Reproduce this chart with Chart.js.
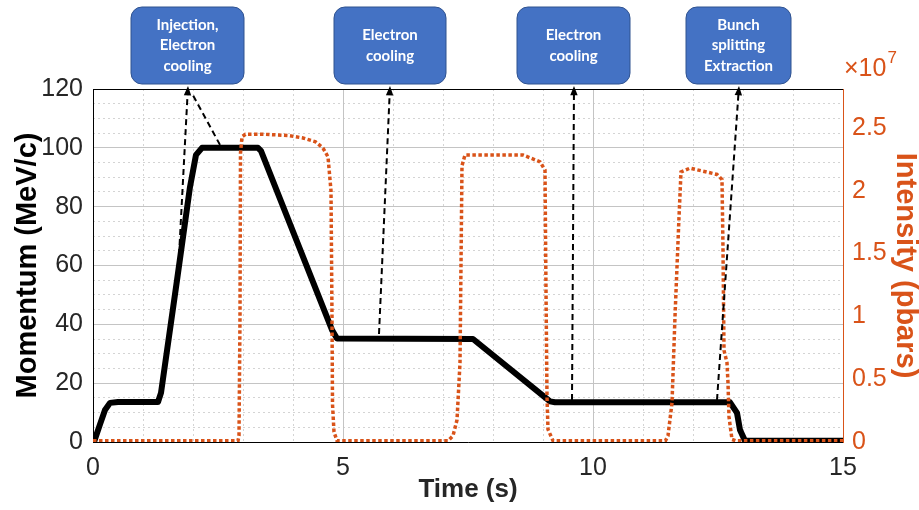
<!DOCTYPE html>
<html>
<head>
<meta charset="utf-8">
<script src="https://cdn.jsdelivr.net/npm/chart.js@4.4.1/dist/chart.umd.min.js"></script>
<style>
html,body{margin:0;padding:0;background:#fff;}
</style>
</head>
<body>
<canvas id="cycleChart" width="919" height="510"></canvas>
<script>

// -------------------------------------
// DATA
// -------------------------------------

// momentum trace (black)
const momTime  = [0.02, 0.14, 0.24, 0.34, 0.5, 1.3, 1.36, 1.68, 1.94, 2.06, 2.18, 3.3, 3.36, 4.78, 4.88, 7.6, 9.14, 9.24, 12.74, 12.88, 12.94, 13.04, 15];
const momValue = [0, 6, 10.9, 13.3, 13.6, 13.6, 16.7, 55, 86.7, 97.6, 100, 100, 99, 38.1, 35.2, 35, 13.8, 13.5, 13.5, 9.9, 4.1, 0.4, 0.4];

// intensity trace (orange, pbars)
const intTime  = [0, 2.9, 2.92, 2.94, 2.95, 2.98, 3.05, 3.4, 3.9, 4.2, 4.45, 4.6, 4.7, 4.76, 4.78, 4.79, 4.82, 4.88,
                  7.1, 7.2, 7.28, 7.34, 7.38, 7.44, 8.6, 8.94, 9.04, 9.06, 9.08, 9.1, 9.2,
                  11.45, 11.5, 11.58, 11.64, 11.72, 11.76, 11.94, 12.48, 12.58, 12.6, 12.62, 12.68, 12.7, 12.72, 12.78, 12.85, 15];
const intValue = [0.01e7, 0.01e7, 0.05e7, 1.0e7, 2.3e7, 2.43e7, 2.45e7, 2.45e7, 2.44e7, 2.42e7, 2.39e7, 2.34e7, 2.27e7, 2.0e7, 1.0e7, 0.3e7, 0.08e7, 0.01e7,
                  0.01e7, 0.05e7, 0.175e7, 0.63e7, 2.2e7, 2.285e7, 2.285e7, 2.23e7, 2.165e7, 1.2e7, 0.36e7, 0.1e7, 0.01e7,
                  0.01e7, 0.05e7, 0.31e7, 1.0e7, 1.79e7, 2.15e7, 2.18e7, 2.13e7, 2.09e7, 1.53e7, 0.73e7, 0.63e7, 0.47e7, 0.2e7, 0.02e7, 0.01e7, 0.01e7];

// ticks
const timeTicks      = [0, 5, 10, 15];
const timeMinorTicks = [0, 1, 2, 3, 4, 5, 6, 7, 8, 9, 10, 11, 12, 13, 14, 15];
const momTicks       = [0, 20, 40, 60, 80, 100, 120];
const momMinorTicks  = [0, 5, 10, 15, 20, 25, 30, 35, 40, 45, 50, 55, 60, 65, 70, 75, 80, 85, 90, 95, 100, 105, 110, 115, 120];
const intTicks       = [0, 0.5e7, 1e7, 1.5e7, 2e7, 2.5e7];

// callouts: text, time of arrow head, arrow tails (time, momentum)
const noteText  = [["Injection,", "Electron", "cooling"], ["Electron", "cooling"], ["Electron", "cooling"], ["Bunch", "splitting", "Extraction"]];
const noteTime  = [1.89, 5.94, 9.61, 12.91];
const arrowHead = [1.9, 5.94, 9.62, 12.92];
const arrowTail = [[[1.7, 56.8], [2.54, 101]], [[5.72, 36.7]], [[9.58, 14.3]], [[12.48, 14.3]]];


// -------------------------------------
// STYLE
// -------------------------------------

const ORANGE = "#D95319";
const TICK_FONT = "'Liberation Sans Narrow', 'Liberation Sans', Arial, sans-serif";
const TITLE_FONT = "'Liberation Sans', Arial, sans-serif";
const noteWidth = [113, 112, 113, 105];

function useTicks(list){
return function(scale){
scale.ticks = list.map(v => ({value: v}));
};
}


// -------------------------------------
// CALLOUTS, FRAME, EXPONENT
// -------------------------------------

const calloutPlugin = {

id: "callouts",

afterDraw(chart){

const {ctx, chartArea, scales} = chart;
const xs = scales.x;
const ys = scales.y;

ctx.save();

// top frame
ctx.strokeStyle = "#000";
ctx.lineWidth = 1;
ctx.beginPath();
ctx.moveTo(chartArea.left, chartArea.top + 0.5);
ctx.lineTo(chartArea.right, chartArea.top + 0.5);
ctx.stroke();

// x10^7
ctx.fillStyle = ORANGE;
ctx.textBaseline = "alphabetic";
ctx.textAlign = "left";
ctx.font = "25px " + TICK_FONT;
ctx.fillText("\u00d710", chartArea.right + 1, 76);
const w = ctx.measureText("\u00d710").width;
ctx.font = "17px " + TICK_FONT;
ctx.fillText("7", chartArea.right + 2 + w, 63);

// arrows
ctx.strokeStyle = "#000";
ctx.fillStyle = "#000";
ctx.lineWidth = 2;

arrowHead.forEach((t, i) => {

const hx = xs.getPixelForValue(t);
const hy = ys.getPixelForValue(121);

arrowTail[i].forEach(tail => {
const tx = xs.getPixelForValue(tail[0]);
const ty = ys.getPixelForValue(tail[1]);
const len = Math.hypot(hx - tx, hy - ty);
const ex = hx - (hx - tx) / len * 7;
const ey = hy - (hy - ty) / len * 7;
ctx.setLineDash([6, 4]);
ctx.beginPath();
ctx.moveTo(tx, ty);
ctx.lineTo(ex, ey);
ctx.stroke();
});

const t0 = arrowTail[i][0];
const ang = Math.atan2(hy - ys.getPixelForValue(t0[1]), hx - xs.getPixelForValue(t0[0]));
ctx.setLineDash([]);
ctx.beginPath();
ctx.moveTo(hx, hy);
ctx.lineTo(hx - 10 * Math.cos(ang - 0.38), hy - 10 * Math.sin(ang - 0.38));
ctx.lineTo(hx - 10 * Math.cos(ang + 0.38), hy - 10 * Math.sin(ang + 0.38));
ctx.closePath();
ctx.fill();

});

// boxes
ctx.setLineDash([]);

noteText.forEach((lines, i) => {

const cx = xs.getPixelForValue(noteTime[i]);
const bw = noteWidth[i];
const bx = cx - bw / 2;
const by = 7;
const bh = 77;

ctx.beginPath();
ctx.roundRect(bx, by, bw, bh, 11);
ctx.fillStyle = "#4472C4";
ctx.fill();
ctx.strokeStyle = "#2F528F";
ctx.lineWidth = 1;
ctx.stroke();

ctx.fillStyle = "#fff";
ctx.font = "bold 15px Lato, 'Open Sans', sans-serif";
ctx.textAlign = "center";
ctx.textBaseline = "middle";
const lh = 20.5;
const y0 = by + bh / 2 - (lines.length - 1) * lh / 2;
lines.forEach((s, k) => ctx.fillText(s, cx, y0 + k * lh));

});

ctx.restore();

}

};


// -------------------------------------
// CHART
// -------------------------------------

const ctx = document.getElementById("cycleChart").getContext("2d");

new Chart(ctx, {

type: "line",

data: {
datasets: [
{
label: "Intensity",
data: intTime.map((t, i) => ({x: t, y: intValue[i]})),
yAxisID: "y1",
borderColor: ORANGE,
borderWidth: 3.5,
borderDash: [3.5, 2.5],
pointRadius: 0,
tension: 0,
fill: false
},
{
label: "Momentum",
data: momTime.map((t, i) => ({x: t, y: momValue[i]})),
yAxisID: "y",
borderColor: "#000",
borderWidth: 6,
borderJoinStyle: "round",
borderCapStyle: "round",
pointRadius: 0,
tension: 0,
fill: false
}
]
},

options: {

responsive: false,
animation: false,
devicePixelRatio: 1,

layout: {
padding: {top: 89, left: 0, right: 0, bottom: 0}
},

plugins: {
legend: {display: false},
tooltip: {enabled: false}
},

scales: {

xMinor: {
type: "linear",
position: "top",
min: 0,
max: 15,
afterBuildTicks: useTicks(timeMinorTicks),
afterFit: s => { s.height = 0; },
ticks: {display: false},
grid: {color: "#D4D4D4", lineWidth: 1, drawTicks: false},
border: {display: false, dash: [2, 3]}
},

yMinor: {
type: "linear",
position: "left",
min: 0,
max: 120,
afterBuildTicks: useTicks(momMinorTicks),
afterFit: s => { s.width = 0; },
ticks: {display: false},
grid: {color: "#D4D4D4", lineWidth: 1, drawTicks: false},
border: {display: false, dash: [2, 3]}
},

x: {
type: "linear",
position: "bottom",
min: 0,
max: 15,
afterBuildTicks: useTicks(timeTicks),
afterFit: s => { s.height = 68; },
ticks: {
color: "#262626",
padding: 11,
font: {family: TICK_FONT, size: 25}
},
grid: {color: "#C4C4C4", lineWidth: 1, drawTicks: false},
border: {display: true, color: "#000", width: 1},
title: {
display: true,
text: "Time (s)",
color: "#262626",
padding: {top: 0, bottom: 7},
font: {family: TITLE_FONT, size: 26, weight: "bold", lineHeight: 1}
}
},

y: {
type: "linear",
position: "left",
min: 0,
max: 120,
afterBuildTicks: useTicks(momTicks),
afterFit: s => { s.width = 93; },
ticks: {
color: "#262626",
padding: 10,
font: {family: TICK_FONT, size: 25}
},
grid: {color: "#C4C4C4", lineWidth: 1, drawTicks: false},
border: {display: true, color: "#000", width: 1},
title: {
display: true,
text: "Momentum (MeV/c)",
color: "#000",
padding: {top: 13, bottom: 0},
font: {family: TITLE_FONT, size: 29, weight: "bold", lineHeight: 1}
}
},

y1: {
type: "linear",
position: "right",
min: 0,
max: 2.81e7,
afterBuildTicks: useTicks(intTicks),
afterFit: s => { s.width = 76; },
ticks: {
color: ORANGE,
padding: 9,
font: {family: TICK_FONT, size: 25},
callback: v => String(v / 1e7)
},
grid: {display: false, drawTicks: false},
border: {display: true, color: ORANGE, width: 1},
title: {
display: true,
text: "Intensity (pbars)",
color: ORANGE,
padding: {top: 0, bottom: 0},
font: {family: TITLE_FONT, size: 29, weight: "bold", lineHeight: 1}
}
}

}

},

plugins: [calloutPlugin]

});

</script>
</body>
</html>
